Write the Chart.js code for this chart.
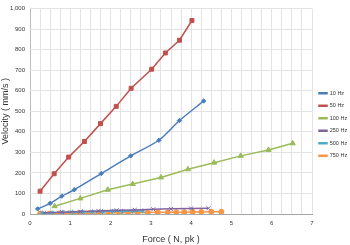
<!DOCTYPE html>
<html>
<head>
<meta charset="utf-8">
<script src="https://cdn.jsdelivr.net/npm/chart.js@4"></script>
<style>
  html, body { margin: 0; padding: 0; background: #fff; }
  #wrap { width: 350px; height: 245px; }
</style>
</head>
<body>
<div id="wrap"><canvas id="forceChart"></canvas></div>
<script>
// force (N, pk) and velocity (mm/s) per drive frequency
const seriesNames = ['10 Hz', '50 Hz', '100 Hz', '250 Hz', '500 Hz', '750 Hz'];

const force10 = [0.19, 0.5, 0.79, 1.1, 1.77, 2.5, 3.2, 3.71, 4.31];
const vel10 = [25, 52, 87, 118, 197, 283, 359, 455, 550];

const force50 = [0.25, 0.6, 0.96, 1.35, 1.75, 2.14, 2.51, 3.02, 3.36, 3.71, 4.02];
const vel50 = [111, 196, 277, 353, 440, 524, 612, 705, 784, 846, 942];

const force100 = [0.61, 1.25, 1.93, 2.55, 3.25, 3.92, 4.57, 5.23, 5.92, 6.52];
const vel100 = [38, 76, 118, 146, 178, 218, 250, 283, 312, 344];

const force250 = [0.35, 0.8, 1.25, 1.7, 2.15, 2.6, 3.06, 3.5, 4.0, 4.43];
const vel250 = [6, 9, 12, 15, 18, 20, 23, 25, 27, 28];

const force500 = [0.3, 0.55, 0.8, 1.05, 1.3, 1.55, 1.8, 2.05, 2.3, 2.55, 2.8];
const vel500 = [4, 6, 8, 9, 10, 11, 12, 13, 13, 14, 15];

const force750 = [0.25, 0.48, 0.73, 0.96, 1.21, 1.48, 1.71, 1.96, 2.21, 2.44, 2.67, 2.92, 3.17, 3.42, 3.63, 3.83, 4.04, 4.25, 4.5, 4.75];
const vel750 = [2, 2, 3, 3, 4, 4, 5, 5, 6, 6, 7, 7, 8, 8, 9, 9, 10, 10, 11, 11];

const xTicksLabelled = [0, 1, 2, 3, 4, 5, 6, 7];

function pts(xs, ys) {
  return xs.map((x, i) => ({ x: x, y: ys[i] }));
}

function series(i, xs, ys, color, style, r, tension) {
  return {
    label: seriesNames[i],
    data: pts(xs, ys),
    borderColor: color,
    backgroundColor: color,
    borderWidth: 1.5,
    pointStyle: style,
    pointRadius: r,
    pointBorderWidth: 1,
    showLine: true,
    tension: tension || 0
  };
}

// keep the legend column narrow like the original
const narrowLegend = {
  id: 'narrowLegend',
  beforeInit: function (chart) {
    const lg = chart.legend;
    if (!lg) return;
    const fit = lg.fit;
    lg.fit = function () {
      fit.call(this);
      this.width = 38;
    };
  }
};

const ctx = document.getElementById('forceChart');

new Chart(ctx, {
  type: 'scatter',
  data: {
    datasets: [
      series(0, force10, vel10, '#4a7dbd', 'rectRot', 2.2, 0.25),
      series(1, force50, vel50, '#c0504d', 'rect', 2.8),
      series(2, force100, vel100, '#9bbb59', 'triangle', 3),
      series(3, force250, vel250, '#8064a2', 'crossRot', 2.8),
      series(4, force500, vel500, '#4bacc6', 'star', 2.5),
      series(5, force750, vel750, '#f79646', 'circle', 2.5)
    ]
  },
  plugins: [narrowLegend],
  options: {
    responsive: true,
    maintainAspectRatio: false,
    animation: false,
    layout: { padding: { top: 4, right: 0, left: 0, bottom: 0 } },
    plugins: {
      tooltip: { enabled: false },
      legend: {
        position: 'right',
        align: 'center',
        labels: {
          boxWidth: 8,
          boxHeight: 1,
          padding: 7,
          color: '#333',
          font: { family: 'Liberation Sans', size: 5.5, lineHeight: 1.35 }
        }
      }
    },
    scales: {
      x: {
        type: 'linear',
        min: 0,
        max: 7,
        afterBuildTicks: function (axis) {
          const t = [];
          for (let v = 0; v <= 28; v++) t.push({ value: v * 0.25 });
          axis.ticks = t;
        },
        afterFit: function (axis) { axis.height = 31; },
        grid: {
          color: function (c) { return c.tick && c.tick.value === 0 ? '#bdbdbd' : '#e3e3e3'; },
          drawTicks: false
        },
        border: { color: '#a6a6a6' },
        ticks: {
          autoSkip: false,
          maxRotation: 0,
          padding: 6,
          color: '#333',
          font: { family: 'Liberation Sans', size: 6 },
          callback: function (v) { return xTicksLabelled.includes(v) ? String(v) : ''; }
        },
        title: {
          display: true,
          text: 'Force ( N, pk )',
          color: '#333',
          padding: { top: 2, bottom: 0 },
          font: { family: 'Liberation Sans', size: 9 }
        }
      },
      y: {
        min: 0,
        max: 1000,
        afterFit: function (axis) { axis.width = 30; },
        grid: { color: '#e3e3e3', drawTicks: false },
        border: { display: false },
        ticks: {
          stepSize: 100,
          padding: 5,
          color: '#333',
          font: { family: 'Liberation Sans', size: 6 }
        },
        title: {
          display: true,
          text: 'Velocity ( mm/s )',
          color: '#333',
          padding: { top: 0, bottom: 2 },
          font: { family: 'Liberation Sans', size: 9 }
        }
      }
    }
  }
});
</script>
</body>
</html>
